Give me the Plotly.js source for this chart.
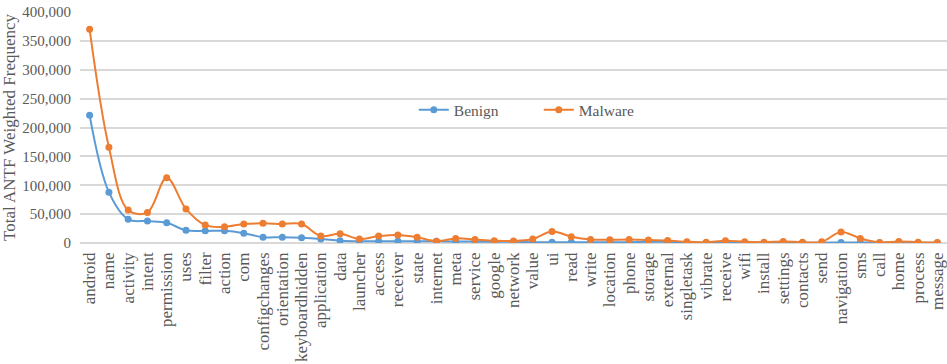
<!DOCTYPE html>
<html>
<head>
<meta charset="utf-8">
<script src="https://cdn.plot.ly/plotly-3.0.1.min.js"></script>
<style>html,body{margin:0;padding:0;background:#fff;}#chart{width:947px;height:364px;}</style>
</head>
<body>
<div id="chart"></div>
<script>
var categories = ["android","name","activity","intent","permission","uses","filter","action","com","configchanges","orientation","keyboardhidden","application","data","launcher","access","receiver","state","internet","meta","service","google","network","value","ui","read","write","location","phone","storage","external","singletask","vibrate","receive","wifi","install","settings","contacts","send","navigation","sms","call","home","process","message"];
var benign = [221000,88000,41000,38000,35000,22000,21000,21000,17000,10000,10000,9000,7000,4000,3000,3000,3000,3000,3000,2500,2500,2000,2000,1500,1500,1500,1500,1500,1500,2000,2000,500,500,1000,1000,500,1500,500,500,1000,1000,500,1000,500,500];
var malware = [370000,166000,57000,53000,113000,59000,31000,28000,33000,34000,33000,33000,12000,16000,7000,12000,14000,10000,3000,8000,6000,4000,3500,7000,20000,11000,6000,5500,6000,5000,4500,2000,1500,4000,2000,1500,2500,1500,2000,19000,8000,1000,2500,1500,1000];

var font = "Liberation Serif";
var traces = [
  {x: categories, y: benign, name: "Benign", type: "scatter", mode: "lines+markers",
   line: {color: "#5B9BD5", width: 2, shape: "spline", smoothing: 1},
   marker: {color: "#5B9BD5", size: 7, symbol: "circle"}},
  {x: categories, y: malware, name: "Malware", type: "scatter", mode: "lines+markers",
   line: {color: "#ED7D31", width: 2, shape: "spline", smoothing: 1},
   marker: {color: "#ED7D31", size: 7, symbol: "circle"}}
];
var layout = {
  width: 947, height: 364,
  margin: {l: 80, r: 0, t: 12, b: 121},
  paper_bgcolor: "#fff", plot_bgcolor: "#fff",
  font: {family: font, color: "#595959", size: 14},
  showlegend: true,
  legend: {orientation: "h", x: 0.385, y: 0.575, xanchor: "left", yanchor: "middle",
           font: {family: font, size: 15.5, color: "#595959"},
           entrywidth: 80, entrywidthmode: "pixels", bgcolor: "rgba(255,255,255,0)"},
  xaxis: {type: "category", range: [-0.5, 44.5], tickmode: "linear", tick0: 0, dtick: 1, tickangle: -90, ticks: "",
          tickfont: {family: font, size: 17, color: "#595959"}, ticklabelstandoff: 5,
          showgrid: false, showline: false, zeroline: false, automargin: false},
  yaxis: {range: [0, 400000], dtick: 50000, tickformat: ",d", ticks: "",
          tickfont: {family: font, size: 15, color: "#595959"}, ticklabelstandoff: 8,
          gridcolor: "#D9D9D9", gridwidth: 2, zeroline: true, zerolinecolor: "#D9D9D9", zerolinewidth: 2,
          showline: false, automargin: false,
          title: {text: "Total ANTF Weighted Frequency", font: {family: font, size: 17, color: "#595959"}, standoff: 6}}
};
Plotly.newPlot("chart", traces, layout, {displayModeBar: false, staticPlot: true});
</script>
</body>
</html>
